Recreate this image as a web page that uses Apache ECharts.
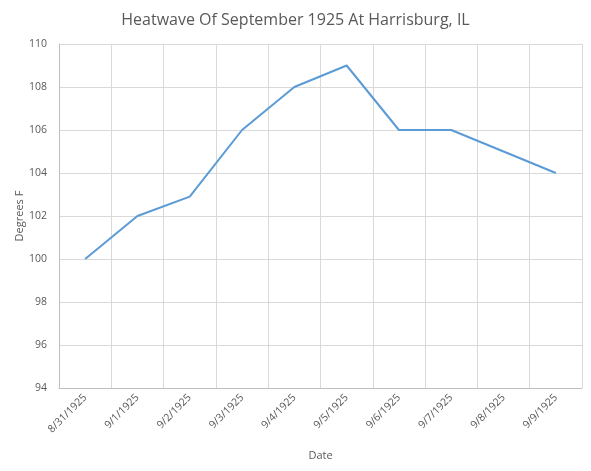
<!DOCTYPE html>
<html><head><meta charset="utf-8">
<script src="https://cdn.jsdelivr.net/npm/echarts@6/dist/echarts.min.js"></script>
<style>html,body{margin:0;padding:0;background:#fff}#c{width:591px;height:471px}</style>
</head><body><div id="c"></div>
<script>
const categories = ['8/31/1925','9/1/1925','9/2/1925','9/3/1925','9/4/1925','9/5/1925','9/6/1925','9/7/1925','9/8/1925','9/9/1925'];
const temps = [100, 102, 102.9, 106, 108, 109, 106, 106, 105, 104];
const yTicks = {min: 94, max: 110, interval: 2};
const chart = echarts.init(document.getElementById('c'));
const font = '"Open Sans", "DejaVu Sans", sans-serif';
chart.setOption({
  animation: false,
  title: {text: 'Heatwave Of September 1925 At Harrisburg, IL', left: 'center', top: 7,
    textStyle: {fontFamily: font, fontSize: 16, fontWeight: 'normal', color: '#595959'}},
  grid: {left: 59, right: 9, top: 44, bottom: 83},
  xAxis: {type: 'category', data: categories, boundaryGap: true,
    name: 'Date', nameLocation: 'middle', nameGap: 62, nameMoveOverlap: false,
    nameTextStyle: {fontFamily: font, fontSize: 11, color: '#595959'},
    axisLine: {lineStyle: {color: '#bfbfbf'}}, axisTick: {show: false},
    splitLine: {show: true, lineStyle: {color: '#d9d9d9'}},
    axisLabel: {rotate: 45, fontFamily: font, fontSize: 10.5, color: '#595959', margin: 8, interval: 0}},
  yAxis: {type: 'value', min: yTicks.min, max: yTicks.max, interval: yTicks.interval,
    name: 'Degrees F', nameLocation: 'middle', nameGap: 34, nameMoveOverlap: false,
    nameTextStyle: {fontFamily: font, fontSize: 11, color: '#595959'},
    axisLine: {show: true, lineStyle: {color: '#bfbfbf'}}, axisTick: {show: false},
    splitLine: {lineStyle: {color: '#d9d9d9'}},
    axisLabel: {fontFamily: font, fontSize: 10.5, color: '#595959', margin: 12}},
  series: [{type: 'line', data: temps, showSymbol: false, symbol: 'none',
    lineStyle: {color: '#5b9bd5', width: 2}}]
});
</script></body></html>
